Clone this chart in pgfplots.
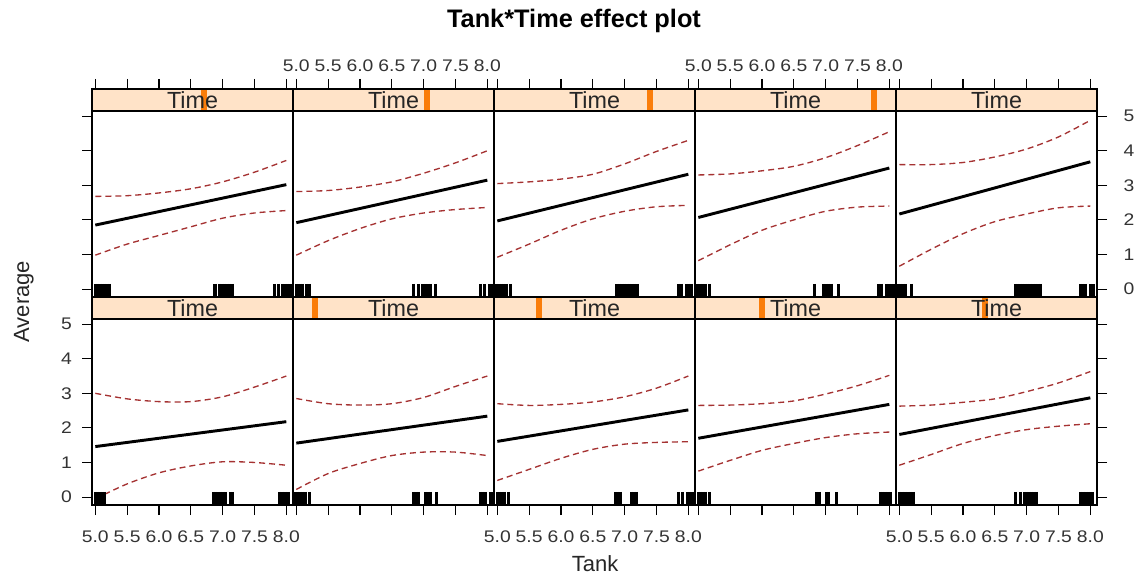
\documentclass[border=0pt]{standalone}
\usepackage{fontspec}
\setmainfont{Liberation Sans}
\newfontfamily\tickfont[FakeStretch=1.15]{Liberation Sans}
\usepackage{pgfplots}
\usepackage{pgfplotstable}
\pgfplotsset{compat=1.18}

\definecolor{stripbg}{RGB}{255,227,200}
\definecolor{stripbar}{RGB}{250,125,10}
\definecolor{cired}{RGB}{165,50,50}

% confidence bands: x, lower, upper
\pgfplotstableread{
x lo hi
5.0 0.98 2.68
5.5 1.30 2.70
6.0 1.55 2.78
6.5 1.80 2.90
7.0 2.05 3.10
7.5 2.20 3.38
8.0 2.27 3.72
}\ciTa
\pgfplotstableread{
x lo hi
5.0 0.98 2.82
5.5 1.40 2.85
6.0 1.75 2.95
6.5 2.03 3.10
7.0 2.20 3.35
7.5 2.30 3.65
8.0 2.36 4.00
}\ciTb
\pgfplotstableread{
x lo hi
5.0 0.92 3.05
5.5 1.30 3.10
6.0 1.70 3.18
6.5 2.03 3.32
7.0 2.25 3.62
7.5 2.38 3.98
8.0 2.42 4.30
}\ciTc
\pgfplotstableread{
x lo hi
5.0 0.82 3.30
5.5 1.28 3.33
6.0 1.70 3.42
6.5 2.00 3.55
7.0 2.25 3.80
7.5 2.37 4.15
8.0 2.40 4.55
}\ciTd
\pgfplotstableread{
x lo hi
5.0 0.66 3.60
5.5 1.15 3.60
6.0 1.60 3.66
6.5 1.95 3.82
7.0 2.17 4.05
7.5 2.35 4.40
8.0 2.40 4.88
}\ciTe
\pgfplotstableread{
x lo hi
5.0 -0.05 3.00
5.5 0.38 2.84
6.0 0.70 2.76
6.5 0.90 2.76
7.0 1.02 2.90
7.5 1.00 3.18
8.0 0.92 3.50
}\ciBa
\pgfplotstableread{
x lo hi
5.0 0.22 2.85
5.5 0.68 2.70
6.0 0.97 2.66
6.5 1.20 2.70
7.0 1.30 2.88
7.5 1.30 3.20
8.0 1.20 3.50
}\ciBb
\pgfplotstableread{
x lo hi
5.0 0.48 2.70
5.5 0.80 2.65
6.0 1.12 2.68
6.5 1.38 2.75
7.0 1.53 2.90
7.5 1.58 3.15
8.0 1.60 3.50
}\ciBc
\pgfplotstableread{
x lo hi
5.0 0.75 2.65
5.5 1.06 2.66
6.0 1.35 2.70
6.5 1.55 2.78
7.0 1.72 2.98
7.5 1.83 3.22
8.0 1.88 3.52
}\ciBd
\pgfplotstableread{
x lo hi
5.0 0.92 2.63
5.5 1.23 2.66
6.0 1.55 2.74
6.5 1.78 2.84
7.0 1.95 3.05
7.5 2.05 3.30
8.0 2.12 3.63
}\ciBe

% rug values (Tank), y = rug height position near the panel floor
\pgfplotstableread{
x y
5.00 -0.04
5.04 -0.04
5.08 -0.04
5.12 -0.04
5.15 -0.04
5.19 -0.04
5.23 -0.04
6.88 -0.04
6.95 -0.04
6.99 -0.04
7.03 -0.04
7.07 -0.04
7.11 -0.04
7.15 -0.04
7.82 -0.04
7.87 -0.04
7.94 -0.04
7.98 -0.04
8.02 -0.04
8.06 -0.04
}\rugTa
\pgfplotstableread{
x y
5.00 -0.04
5.03 -0.04
5.06 -0.04
5.10 -0.04
5.16 -0.04
5.21 -0.04
6.84 -0.04
6.92 -0.04
6.99 -0.04
7.03 -0.04
7.07 -0.04
7.11 -0.04
7.18 -0.04
7.90 -0.04
7.96 -0.04
8.03 -0.04
8.07 -0.04
}\rugTb
\pgfplotstableread{
x y
4.99 -0.04
5.03 -0.04
5.06 -0.04
5.10 -0.04
5.15 -0.04
5.20 -0.04
6.88 -0.04
6.92 -0.04
6.96 -0.04
7.00 -0.04
7.04 -0.04
7.08 -0.04
7.12 -0.04
7.16 -0.04
7.20 -0.04
7.84 -0.04
7.90 -0.04
7.97 -0.04
8.01 -0.04
8.05 -0.04
}\rugTc
\pgfplotstableread{
x y
4.99 -0.04
5.03 -0.04
5.07 -0.04
5.11 -0.04
5.18 -0.04
6.83 -0.04
6.97 -0.04
7.01 -0.04
7.05 -0.04
7.09 -0.04
7.20 -0.04
7.83 -0.04
7.88 -0.04
7.96 -0.04
8.00 -0.04
8.04 -0.04
8.07 -0.04
}\rugTd
\pgfplotstableread{
x y
4.98 -0.04
5.02 -0.04
5.06 -0.04
5.10 -0.04
5.19 -0.04
6.82 -0.04
6.86 -0.04
6.90 -0.04
6.94 -0.04
6.98 -0.04
7.02 -0.04
7.06 -0.04
7.10 -0.04
7.14 -0.04
7.18 -0.04
7.21 -0.04
7.84 -0.04
7.88 -0.04
7.92 -0.04
8.00 -0.04
8.05 -0.04
}\rugTe
\pgfplotstableread{
x y
5.00 -0.04
5.04 -0.04
5.08 -0.04
5.12 -0.04
5.15 -0.04
6.85 -0.04
6.89 -0.04
6.93 -0.04
6.97 -0.04
7.01 -0.04
7.05 -0.04
7.12 -0.04
7.16 -0.04
7.90 -0.04
7.94 -0.04
7.98 -0.04
8.03 -0.04
}\rugBa
\pgfplotstableread{
x y
4.98 -0.04
5.02 -0.04
5.06 -0.04
5.10 -0.04
5.14 -0.04
5.20 -0.04
6.84 -0.04
6.88 -0.04
6.92 -0.04
7.03 -0.04
7.07 -0.04
7.11 -0.04
7.20 -0.04
7.89 -0.04
7.93 -0.04
7.97 -0.04
8.05 -0.04
8.09 -0.04
}\rugBb
\pgfplotstableread{
x y
5.00 -0.04
5.04 -0.04
5.08 -0.04
5.12 -0.04
5.17 -0.04
6.85 -0.04
6.89 -0.04
6.93 -0.04
7.11 -0.04
7.15 -0.04
7.19 -0.04
7.84 -0.04
7.91 -0.04
7.98 -0.04
8.02 -0.04
8.06 -0.04
}\rugBc
\pgfplotstableread{
x y
5.00 -0.04
5.04 -0.04
5.08 -0.04
5.11 -0.04
5.17 -0.04
6.86 -0.04
6.91 -0.04
7.01 -0.04
7.05 -0.04
7.17 -0.04
7.86 -0.04
7.90 -0.04
7.94 -0.04
7.98 -0.04
8.02 -0.04
}\rugBd
\pgfplotstableread{
x y
5.01 -0.04
5.05 -0.04
5.09 -0.04
5.14 -0.04
5.18 -0.04
5.22 -0.04
6.82 -0.04
6.90 -0.04
6.96 -0.04
7.00 -0.04
7.04 -0.04
7.08 -0.04
7.12 -0.04
7.16 -0.04
7.84 -0.04
7.90 -0.04
7.94 -0.04
7.97 -0.04
8.01 -0.04
8.04 -0.04
}\rugBe

\pgfplotsset{
  panel/.style={
    scale only axis, width=150.75pt, height=156pt, anchor=south west,
    xmin=4.948, xmax=8.105, ymin=-0.23, ymax=5.786,
    xtick={5,5.5,6,6.5,7,7.5,8}, ytick={0,1,2,3,4,5},
    tick align=outside, major tick length=7.5pt,
    every tick/.style={black, line width=0.8pt},
    axis line style={line width=0.9pt},
    axis on top,
    /pgf/number format/assume math mode=true,
    ticklabel style={font=\tickfont\fontsize{12.6}{14}\selectfont, text=black!80},
    xticklabel style={/pgf/number format/fixed, /pgf/number format/fixed zerofill, /pgf/number format/precision=1},
  },
  toprow/.style={xtick pos=right, xticklabel pos=right, xticklabel style={yshift=2pt}},
  botrow/.style={xtick pos=left, xticklabel pos=left, xticklabel style={yshift=-8.5pt}},
  nox/.style={xticklabels={}},
  cfirst/.style={ytick pos=left, yticklabel style={xshift=-4pt}},
  clast/.style={ytick pos=right, yticklabel pos=right, yticklabel style={xshift=9pt}},
  cmid/.style={ytick=\empty},
  noy/.style={yticklabels={}},
}

% #1 position, #2 options, #3 band table, #4 fit, #5 rug table, #6/#7 strip marker edges
\newcommand{\panel}[7]{%
  \begin{axis}[panel, at={(#1)}, #2]
    \fill[stripbg] (axis cs:4.948,5.15) rectangle (axis cs:8.105,5.786);
    \fill[stripbar] (axis cs:#6,5.15) rectangle (axis cs:#7,5.786);
    \node[font=\fontsize{17.5}{19}\selectfont, text=black!85] at (axis cs:6.5265,5.455) {Time};
    \draw[line width=0.9pt] (axis cs:4.948,5.15) -- (axis cs:8.105,5.15);
    \addplot[cired, line width=1pt, dash pattern=on 4.5pt off 3pt, smooth] table[x=x, y=lo] {#3};
    \addplot[cired, line width=1pt, dash pattern=on 4.5pt off 3pt, smooth] table[x=x, y=hi] {#3};
    \addplot[black, line width=2.2pt] coordinates {#4};
    \addplot[only marks, mark=|, mark size=4.9pt, mark options={line width=2.3pt, black}] table[x=x, y=y] {#5};
  \end{axis}}

\begin{document}
\begin{tikzpicture}
\path[use as bounding box] (0,0) rectangle (854.25pt,-432.75pt);

% top row: Time levels 6..10
\panel{69pt,-222.75pt}{toprow, nox, cfirst, noy}{\ciTa}{(5,1.85) (8,3.02)}{\rugTa}{6.655}{6.749}
\panel{219.75pt,-222.75pt}{toprow, cmid}{\ciTb}{(5,1.92) (8,3.15)}{\rugTb}{7.006}{7.100}
\panel{370.5pt,-222.75pt}{toprow, nox, cmid}{\ciTc}{(5,1.97) (8,3.32)}{\rugTc}{7.356}{7.450}
\panel{521.25pt,-222.75pt}{toprow, cmid}{\ciTd}{(5,2.07) (8,3.50)}{\rugTd}{7.707}{7.801}
\panel{672pt,-222.75pt}{toprow, nox, clast}{\ciTe}{(5,2.17) (8,3.68)}{\rugTe}{9}{9.1}

% bottom row: Time levels 1..5
\panel{69pt,-378.75pt}{botrow, cfirst}{\ciBa}{(5,1.46) (8,2.18)}{\rugBa}{9}{9.1}
\panel{219.75pt,-378.75pt}{botrow, nox, cmid}{\ciBb}{(5,1.56) (8,2.34)}{\rugBb}{5.252}{5.346}
\panel{370.5pt,-378.75pt}{botrow, cmid}{\ciBc}{(5,1.61) (8,2.52)}{\rugBc}{5.603}{5.697}
\panel{521.25pt,-378.75pt}{botrow, nox, cmid}{\ciBd}{(5,1.70) (8,2.68)}{\rugBd}{5.953}{6.047}
\panel{672pt,-378.75pt}{botrow, clast, noy}{\ciBe}{(5,1.81) (8,2.87)}{\rugBe}{6.304}{6.398}

\node[anchor=base, font=\bfseries\fontsize{19}{21}\selectfont] at (430.5pt,-21pt) {Tank*Time effect plot};
\node[anchor=base, font=\fontsize{16.5}{18}\selectfont, text=black!85] at (446.25pt,-428.6pt) {Tank};
\node[anchor=base, rotate=90, font=\fontsize{16.5}{18}\selectfont, text=black!85] at (21.75pt,-226.3pt) {Average};
\end{tikzpicture}
\end{document}
